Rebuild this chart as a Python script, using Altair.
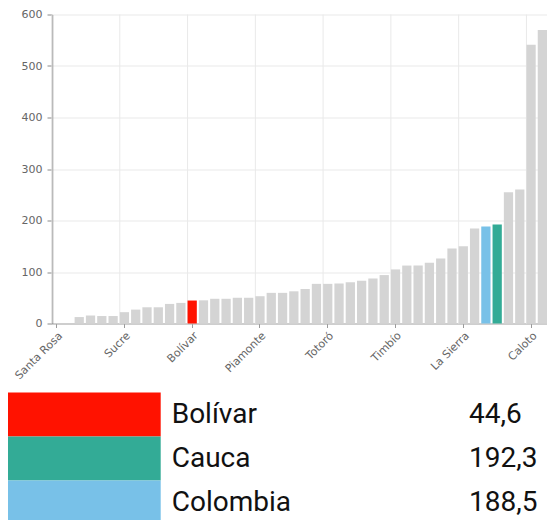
import altair as alt
import pandas as pd

# Bars, in display order (ascending)
names = [
    "Santa Rosa", "López de Micay", "Guapí", "Timbiquí", "Argelia", "Almaguer",
    "Sucre", "La Vega", "San Sebastián", "Florencia", "Balboa", "Sotará",
    "Bolívar", "Rosas", "Mercaderes", "Inzá", "Páez", "Jambaló",
    "Piamonte", "Cajibío", "Morales", "Puracé", "Caldono", "Silvia",
    "Totoró", "Toribío", "El Tambo", "Buenos Aires", "Suárez", "Patía",
    "Timbío", "Piendamó", "Padilla", "Corinto", "Miranda", "Guachené",
    "La Sierra", "Popayán", "Colombia", "Cauca", "Santander de Quilichao", "Villa Rica",
    "Caloto", "Puerto Tejada",
]
values = [
    0, 0, 12.5, 15.5, 14.5, 14.5,
    22, 27, 31.5, 31.5, 38, 40,
    44.6, 45, 48, 48, 50, 50,
    53, 59.5, 59.5, 62.5, 67, 77,
    77, 77.5, 80, 83, 87.5, 94,
    105, 112.5, 112.5, 118, 126, 145.5,
    150, 184.5, 188.5, 192.3, 255, 260,
    541.5, 570,
]
axis_labels = ["Santa Rosa", "Sucre", "Bolívar", "Piamonte", "Totoró", "Timbío", "La Sierra", "Caloto"]
y_ticks = [0, 100, 200, 300, 400, 500, 600]

highlight_names = ["Bolívar", "Cauca", "Colombia"]
highlight_values = [44.6, 192.3, 188.5]
highlight_colors = ["#ff1200", "#33ab96", "#78c1e8"]
other_color = "#d4d4d4"

df = pd.DataFrame({"name": names, "value": values})
df["group"] = [n if n in highlight_names else "otro" for n in names]
grid_df = pd.DataFrame({"name": axis_labels})

color_scale = alt.Scale(domain=highlight_names + ["otro"], range=highlight_colors + [other_color])

PLOT_W = 495
x_scale = alt.Scale(domain=names, paddingInner=0.18, paddingOuter=0)

axis_font = "DejaVu Sans"
x_axis = alt.Axis(
    values=axis_labels, title=None, grid=False, domain=True, labelAngle=-45,
    labelAlign="right", labelBaseline="top", labelFont=axis_font,
    labelFontSize=11, labelColor="#666666", labelPadding=2,
    domainColor="#a8a8a8", tickColor="#9a9a9a", tickSize=4,
)

vgrid = alt.Chart(grid_df).mark_rule(color="#e9e9e9", strokeWidth=1).encode(
    x=alt.X("name:N", scale=x_scale, bandPosition=0, axis=x_axis)
)

bars = alt.Chart(df).mark_bar().encode(
    x=alt.X("name:N", scale=x_scale, axis=x_axis),
    y=alt.Y(
        "value:Q",
        scale=alt.Scale(domain=[0, 600], nice=False),
        axis=alt.Axis(
            values=y_ticks, title=None, grid=True, gridColor="#e9e9e9",
            labelFont=axis_font, labelFontSize=11, labelColor="#666666",
            labelPadding=5, domainColor="#8a8a8a", domainWidth=1.5,
            tickColor="#8a8a8a", tickSize=5,
        ),
    ),
    color=alt.Color("group:N", scale=color_scale, legend=None),
)

bar_panel = alt.layer(vgrid, bars).properties(width=PLOT_W, height=309)

tdf = pd.DataFrame({"group": highlight_names, "value": highlight_values})
row_y = alt.Y(
    "group:N",
    scale=alt.Scale(domain=highlight_names, paddingInner=0, paddingOuter=0),
    axis=None,
)

rects = alt.Chart(tdf).mark_rect().encode(
    x=alt.value(-44), x2=alt.value(108.7), y=row_y,
    color=alt.Color("group:N", scale=color_scale, legend=None),
)
name_text = alt.Chart(tdf).mark_text(
    align="left", baseline="middle", font="Roboto", fontSize=28, color="#111111"
).encode(x=alt.value(119.7), y=row_y, text="group:N")
value_text = alt.Chart(tdf).transform_calculate(
    label="replace(format(datum.value, '.1f'), '.', ',')"
).mark_text(
    align="left", baseline="middle", font="Roboto", fontSize=28, color="#111111"
).encode(x=alt.value(417), y=row_y, text="label:N")

table_panel = alt.layer(rects, name_text, value_text).properties(width=480, height=132)

chart = (
    alt.vconcat(bar_panel, table_panel, spacing=11)
    .resolve_scale(color="independent")
    .properties(padding={"left": 0, "top": 0.5, "right": 0, "bottom": 0})
    .configure_view(stroke=None)
)

chart.save("out.html", embed_options={"renderer": "svg", "actions": False})
